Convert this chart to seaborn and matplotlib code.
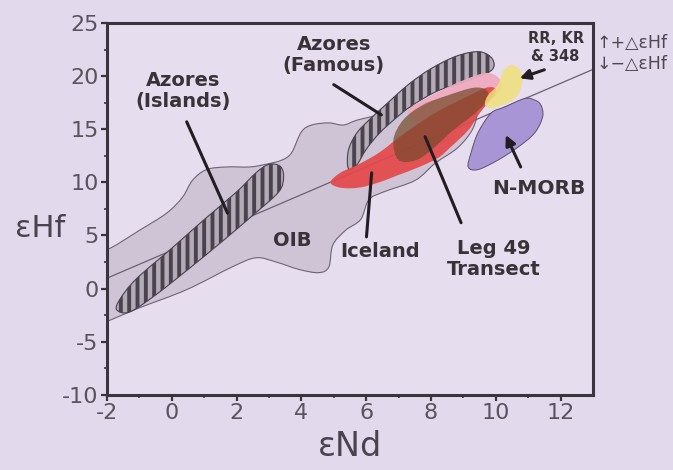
import numpy as np
import pandas as pd
import matplotlib
matplotlib.use("Agg")
import matplotlib.pyplot as plt
from matplotlib.path import Path
from matplotlib.patches import PathPatch
import seaborn as sns

# ---- field outlines in (eNd, eHf) space ----
oib_nd = [-2.3, -2.0, -0.99, 0.46, 1.87, 2.6, 3.22, 3.93, 4.54, 4.85,
          4.97, 5.37, 5.83, 6.08, 6.54, 7.52, 8.13, 8.84, 9.3, 9.39,
          9.0, 8.22, 7.0, 5.77, 5.3, 4.85, 4.32, 4.0, 3.7, 3.4,
          2.9, 2.4, 1.68, 1.07, 0.64, 0.33, -0.16, -0.99, -1.9, -2.3]
oib_hf = [-3.4, -3.1, -1.8, -0.1, 2.05, 2.9, 2.5, 1.8, 1.5, 2.05,
          4.1, 5.5, 6.5, 8.35, 9.1, 10.2, 11.8, 13.3, 15.1, 16.8,
          18.2, 17.8, 16.8, 15.9, 15.4, 15.6, 15.4, 14.75, 12.8, 12.1,
          11.7, 11.45, 11.45, 11.2, 10.2, 8.6, 7.1, 5.5, 3.8, 3.5]

azi_nd = [-1.6, -1.1, 0.0, 1.0, 2.0, 2.6, 3.0, 3.35, 3.45, 3.3, 2.5, 1.5, 0.5, -0.5, -1.3, -1.7]
azi_hf = [-1.0, 0.9, 3.8, 6.5, 9.1, 10.9, 11.7, 11.5, 10.5, 9.1, 6.9, 4.3, 1.8, -0.6, -2.2, -2.0]

azf_nd = [5.45, 5.45, 5.7, 6.1, 6.6, 7.3, 8.0, 8.8, 9.5, 9.9,
          9.85, 9.0, 8.2, 7.4, 6.9, 6.4, 6.0, 5.7]
azf_hf = [11.3, 13.0, 14.6, 15.9, 17.3, 19.2, 20.7, 21.9, 22.3, 21.6,
          20.5, 19.4, 18.6, 17.2, 16.0, 14.6, 13.1, 11.6]

pink_nd = [7.3, 8.22, 8.99, 9.7, 10.1, 10.15, 9.76, 9.15, 8.53, 7.76]
pink_hf = [16.8, 18.5, 19.6, 20.3, 19.8, 18.7, 17.6, 17.2, 16.5, 15.6]

ice_nd = [4.9, 5.2, 5.77, 6.4, 7.0, 7.6, 8.22, 9.0, 9.7, 10.0,
          9.9, 9.5, 9.15, 8.6, 8.22, 7.6, 7.0, 6.4, 5.77, 5.2]
ice_hf = [10.0, 10.9, 11.7, 12.8, 14.2, 15.5, 16.7, 17.9, 18.9, 18.8,
          18.0, 16.5, 14.9, 13.3, 12.3, 11.4, 10.7, 10.0, 9.5, 9.5]

leg_nd = [6.84, 7.15, 7.76, 8.53, 9.3, 9.7, 9.76, 9.3, 8.68, 8.07, 7.55, 7.0]
leg_hf = [14.0, 15.9, 17.3, 18.2, 18.9, 18.7, 17.75, 16.35, 14.9, 13.2, 12.1, 12.1]

rr_nd = [10.47, 10.74, 10.83, 10.68, 10.37, 9.9, 9.67, 9.76, 10.07, 10.22]
rr_hf = [21.05, 20.6, 19.6, 18.2, 17.5, 17.0, 17.3, 18.2, 19.2, 20.4]

morb_nd = [11.2, 10.9, 10.28, 9.85, 9.45, 9.24, 9.15, 9.45, 10.07, 10.68, 11.2, 11.45, 11.39]
morb_hf = [17.75, 17.9, 17.1, 16.5, 14.65, 12.8, 11.45, 11.2, 12.1, 13.3, 14.65, 16.2, 17.3]

# terrestrial Hf-Nd array
array_slope = 1.31
array_intercept = 3.6
array_nd = [-2.0, 13.0]

x_ticks = [-2, 0, 2, 4, 6, 8, 10, 12]
y_ticks = [-10, -5, 0, 5, 10, 15, 20, 25]

BG = "#e3d9ec"
AX_BG = "#e6ddef"
INK = "#3a3238"


def smooth_path(xs, ys):
    """Closed Catmull-Rom outline expressed as cubic Bezier segments."""
    p = np.column_stack([xs, ys]).astype(float)
    n = len(p)
    verts = [p[0]]
    codes = [Path.MOVETO]
    for i in range(n):
        p0, p1, p2, p3 = p[i - 1], p[i], p[(i + 1) % n], p[(i + 2) % n]
        verts += [p1 + (p2 - p0) / 6.0, p2 - (p3 - p1) / 6.0, p2]
        codes += [Path.CURVE4] * 3
    verts.append(p[0])
    codes.append(Path.CLOSEPOLY)
    return Path(np.array(verts), codes)


def add_field(ax, xs, ys, z, **kw):
    patch = PathPatch(smooth_path(xs, ys), zorder=z, **kw)
    ax.add_patch(patch)
    return patch


sns.set_theme(style="ticks")
plt.rcParams["font.family"] = ["DejaVu Sans"]
plt.rcParams["hatch.color"] = "#3a333f"
plt.rcParams["hatch.linewidth"] = 2.8

fig = plt.figure(figsize=(6.73, 4.70), dpi=100, facecolor=BG)
ax = fig.add_axes([0.159, 0.160, 0.722, 0.791])
ax.set_facecolor(AX_BG)

# OIB field
add_field(ax, oib_nd, oib_hf, 1, facecolor="#cec4d6", edgecolor="#6f6474", linewidth=0.8)

# terrestrial array line
line_df = pd.DataFrame({"eNd": array_nd,
                        "eHf": [array_slope * v + array_intercept for v in array_nd]})
sns.lineplot(data=line_df, x="eNd", y="eHf", ax=ax, color="#6a6070", linewidth=0.9, zorder=2)

# Azores fields (striped)
for xs, ys in [(azi_nd, azi_hf), (azf_nd, azf_hf)]:
    add_field(ax, xs, ys, 3, facecolor="#b3acb7", edgecolor="#4a434f",
              linewidth=0.8, hatch="||")

add_field(ax, pink_nd, pink_hf, 4, facecolor="#efabc0", edgecolor="none", alpha=0.95)
add_field(ax, ice_nd, ice_hf, 5, facecolor="#e4484a", edgecolor="none", alpha=0.93)
add_field(ax, leg_nd, leg_hf, 6, facecolor="#784a2c", edgecolor="none", alpha=0.72)
add_field(ax, rr_nd, rr_hf, 7, facecolor="#f0e07a", edgecolor="none", alpha=0.85)
add_field(ax, morb_nd, morb_hf, 7, facecolor="#a895d6", edgecolor="#5d5070", linewidth=0.7)

ax.set_xlim(-2, 13)
ax.set_ylim(-10, 25)
ax.set_xticks(x_ticks)
ax.set_yticks(y_ticks)
ax.set_xticks(np.arange(-1, 13, 2), minor=True)
ax.set_yticks(np.arange(-7.5, 25, 5), minor=True)
ax.set_xticklabels([str(t) for t in x_ticks])
ax.set_yticklabels([str(t) for t in y_ticks])
ax.set_xlabel("")
ax.set_ylabel("")
for s in ax.spines.values():
    s.set_color("#3b333e")
    s.set_linewidth(2.2)
    s.set_visible(True)
ax.tick_params(axis="both", which="major", direction="out", length=4, width=1.6,
               color="#3b333e", labelsize=16, labelcolor="#5a525e", pad=2)
ax.tick_params(axis="both", which="minor", direction="out", length=2.5, width=1.2,
               color="#3b333e")

# labels and leader lines
bold = dict(fontsize=14, fontweight="bold", color=INK, ha="center", va="center", zorder=10)
ax.text(0.36, 18.6, "Azores\n(Islands)", linespacing=1.15, **bold)
ax.text(5.0, 22.0, "Azores\n(Famous)", linespacing=1.15, **bold)
ax.text(3.71, 4.5, "OIB", **bold)
ax.text(6.44, 3.45, "Iceland", **bold)
ax.text(9.94, 2.8, "Leg 49\nTransect", linespacing=1.15, **bold)
ax.text(11.33, 9.4, "N-MORB", fontsize=14.5, fontweight="bold", color=INK,
        ha="center", va="center", zorder=10)
ax.text(11.85, 22.7, "RR, KR\n& 348", fontsize=10.5, fontweight="bold", color=INK,
        ha="center", va="center", linespacing=1.2, zorder=10)

lead = dict(color="#231c22", lw=2.2)
leaders = [((0.46, 15.7), (1.72, 7.1), "-"),
           ((5.0, 19.2), (6.47, 16.35), "-"),
           ((6.01, 4.87), (6.17, 10.9), "-"),
           ((8.93, 6.2), (7.82, 14.3), "-"),
           ((10.77, 11.45), (10.31, 14.46), "-|>"),
           ((11.5, 20.6), (10.74, 19.8), "-|>")]
for start, end, style in leaders:
    ax.annotate("", xy=end, xytext=start, zorder=11,
                arrowprops=dict(arrowstyle=style if style == "-" else "-|>,head_length=0.5,head_width=0.25",
                                shrinkA=0, shrinkB=0, **lead))

# sense of offset from the array
ax.text(13.12, 23.1, "\u2191+\u25b3\u03b5Hf", fontsize=12.5, color="#4e4652",
        ha="left", va="center", clip_on=False)
ax.text(13.12, 21.1, "\u2193\u2212\u25b3\u03b5Hf", fontsize=12.5, color="#4e4652",
        ha="left", va="center", clip_on=False)

# axis titles
fig.text(40 / 673, 1 - 228 / 470, "\u03b5Hf", fontsize=22, color="#4a424e",
         ha="center", va="center")
fig.text(350 / 673, 1 - 447 / 470, "\u03b5Nd", fontsize=24, color="#4a424e",
         ha="center", va="center")

fig.savefig("out.png", dpi=100, facecolor=BG)
